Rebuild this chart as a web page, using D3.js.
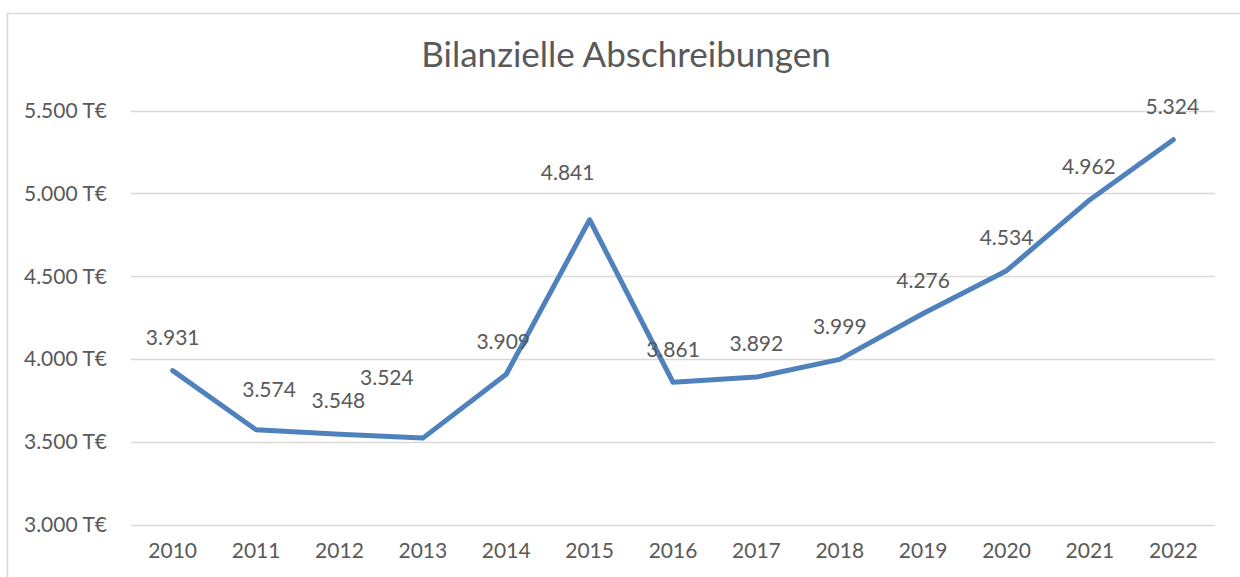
<!DOCTYPE html>
<html>
<head>
<meta charset="utf-8">
<script src="https://cdn.jsdelivr.net/npm/d3@7"></script>
<style>
  body { margin: 0; background: #fff; }
  svg text { font-family: Lato, "Open Sans", sans-serif; fill: #595959; }
</style>
</head>
<body>
<svg id="chart" width="1240" height="577"></svg>
<script>
var years = ["2010","2011","2012","2013","2014","2015","2016","2017","2018","2019","2020","2021","2022"];
var values = [3931, 3574, 3548, 3524, 3909, 4841, 3861, 3892, 3999, 4276, 4534, 4962, 5324];
var yTicks = [3000, 3500, 4000, 4500, 5000, 5500];
// manual nudges of the data labels (px), like in the original
var labelDx = [0, 13, -1, -36, -3, -22, 0, 0, 0, 0, 0, -1, -1];
var labelDy = [0, -7, 0, -27, 0, -14, 0, 0, 0, 0, 0, 0, 0];

var svg = d3.select("#chart");

// outer chart border
svg.append("rect")
    .attr("x", 7.5).attr("y", 13.5)
    .attr("width", 1240).attr("height", 600)
    .attr("fill", "none")
    .attr("stroke", "#d9d9d9")
    .attr("stroke-width", 1.5);

var x = d3.scaleBand().domain(years).range([131, 1215]);
var y = d3.scaleLinear().domain([3000, 5500]).range([525, 110.5]);

// gridlines
svg.append("g").selectAll("line")
    .data(yTicks)
    .enter().append("line")
    .attr("x1", 131).attr("x2", 1215)
    .attr("y1", function(d) { return Math.round(y(d)) + 0.5; })
    .attr("y2", function(d) { return Math.round(y(d)) + 0.5; })
    .attr("stroke", "#d9d9d9")
    .attr("stroke-width", 1.5);

var fmt = d3.formatLocale({decimal: ",", thousands: ".", grouping: [3], currency: ["", " T€"]}).format(",.0f");

// y axis labels
var yAxis = svg.append("g")
    .attr("transform", "translate(107,0)")
    .call(d3.axisLeft(y).tickValues(yTicks).tickSize(0).tickPadding(0)
      .tickFormat(function(d) { return fmt(d) + " T€"; }));
yAxis.select(".domain").remove();
yAxis.selectAll("text")
    .attr("font-size", 21)
    .style("font-family", "Lato, 'Open Sans', sans-serif")
    .attr("fill", "#595959");

// x axis labels
var xAxis = svg.append("g")
    .attr("transform", "translate(0,537)")
    .call(d3.axisBottom(x).tickSize(0).tickPadding(0));
xAxis.select(".domain").remove();
xAxis.selectAll("text")
    .attr("font-size", 21)
    .attr("dy", "1em")
    .style("font-family", "Lato, 'Open Sans', sans-serif")
    .attr("fill", "#595959");

// the line
var line = d3.line()
    .x(function(d, i) { return x(years[i]) + x.bandwidth() / 2; })
    .y(function(d) { return y(d); });

svg.append("path")
    .datum(values)
    .attr("d", line)
    .attr("fill", "none")
    .attr("stroke", "#4f81bd")
    .attr("stroke-width", 5)
    .attr("stroke-linejoin", "round")
    .attr("stroke-linecap", "round");

// data labels
svg.append("g").selectAll("text")
    .data(values)
    .enter().append("text")
    .attr("x", function(d, i) { return x(years[i]) + x.bandwidth() / 2 + labelDx[i]; })
    .attr("y", function(d, i) { return y(d) - 33 + labelDy[i]; })
    .attr("dy", "0.35em")
    .attr("text-anchor", "middle")
    .attr("font-size", 21)
    .attr("fill", "#404040")
    .text(function(d) { return fmt(d); });

// title
svg.append("text")
    .attr("x", 626).attr("y", 67)
    .attr("text-anchor", "middle")
    .attr("font-size", 35)
    .attr("fill", "#595959")
    .text("Bilanzielle Abschreibungen");
</script>
</body>
</html>
